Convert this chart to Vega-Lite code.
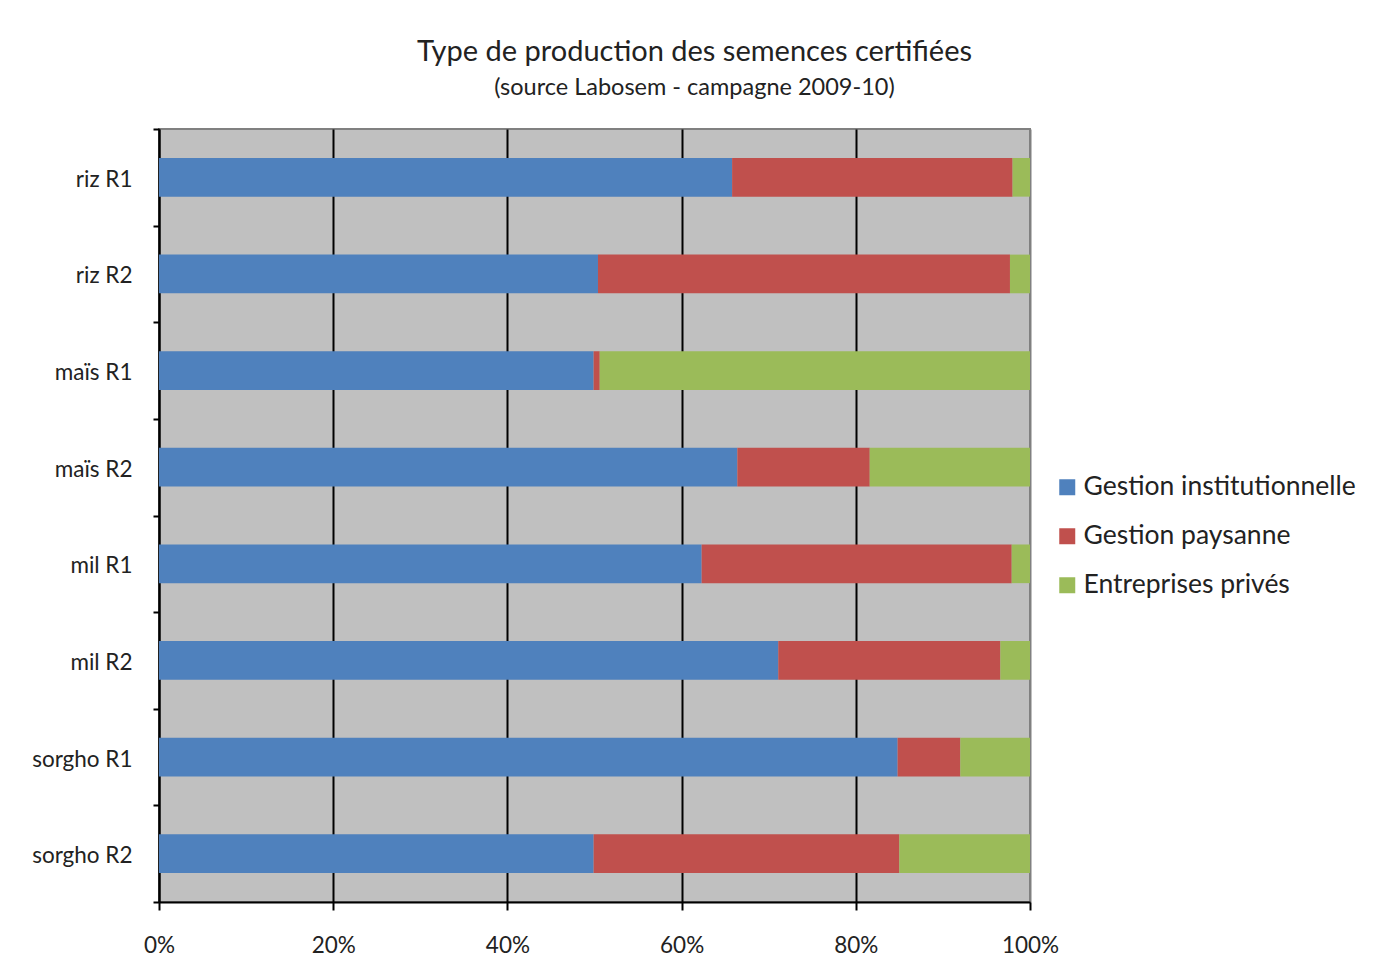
{
  "$schema": "https://vega.github.io/schema/vega-lite/v6.json",
  "width": 871,
  "height": 773,
  "autosize": "none",
  "padding": {"left": 159, "top": 129, "right": 350, "bottom": 69},
  "background": "white",
  "title": {
    "text": "Type de production des semences certifiées",
    "subtitle": "(source Labosem - campagne  2009-10)",
    "anchor": "middle",
    "dx": 100,
    "offset": 19,
    "font": "Lato",
    "fontSize": 29,
    "fontWeight": "normal",
    "color": "#222222",
    "subtitleFont": "Lato",
    "subtitleFontSize": 23.5,
    "subtitleColor": "#222222",
    "subtitlePadding": 9
  },
  "data": {
    "values": [
      {"culture": "riz R1", "type": "Gestion institutionnelle", "ordre": 1, "part": 0.658},
      {"culture": "riz R1", "type": "Gestion paysanne", "ordre": 2, "part": 0.322},
      {"culture": "riz R1", "type": "Entreprises privés", "ordre": 3, "part": 0.020},
      {"culture": "riz R2", "type": "Gestion institutionnelle", "ordre": 1, "part": 0.504},
      {"culture": "riz R2", "type": "Gestion paysanne", "ordre": 2, "part": 0.473},
      {"culture": "riz R2", "type": "Entreprises privés", "ordre": 3, "part": 0.023},
      {"culture": "maïs R1", "type": "Gestion institutionnelle", "ordre": 1, "part": 0.499},
      {"culture": "maïs R1", "type": "Gestion paysanne", "ordre": 2, "part": 0.007},
      {"culture": "maïs R1", "type": "Entreprises privés", "ordre": 3, "part": 0.494},
      {"culture": "maïs R2", "type": "Gestion institutionnelle", "ordre": 1, "part": 0.664},
      {"culture": "maïs R2", "type": "Gestion paysanne", "ordre": 2, "part": 0.152},
      {"culture": "maïs R2", "type": "Entreprises privés", "ordre": 3, "part": 0.184},
      {"culture": "mil R1", "type": "Gestion institutionnelle", "ordre": 1, "part": 0.623},
      {"culture": "mil R1", "type": "Gestion paysanne", "ordre": 2, "part": 0.356},
      {"culture": "mil R1", "type": "Entreprises privés", "ordre": 3, "part": 0.021},
      {"culture": "mil R2", "type": "Gestion institutionnelle", "ordre": 1, "part": 0.711},
      {"culture": "mil R2", "type": "Gestion paysanne", "ordre": 2, "part": 0.255},
      {"culture": "mil R2", "type": "Entreprises privés", "ordre": 3, "part": 0.034},
      {"culture": "sorgho R1", "type": "Gestion institutionnelle", "ordre": 1, "part": 0.848},
      {"culture": "sorgho R1", "type": "Gestion paysanne", "ordre": 2, "part": 0.072},
      {"culture": "sorgho R1", "type": "Entreprises privés", "ordre": 3, "part": 0.080},
      {"culture": "sorgho R2", "type": "Gestion institutionnelle", "ordre": 1, "part": 0.499},
      {"culture": "sorgho R2", "type": "Gestion paysanne", "ordre": 2, "part": 0.351},
      {"culture": "sorgho R2", "type": "Entreprises privés", "ordre": 3, "part": 0.150}
    ]
  },
  "mark": {"type": "bar", "height": {"band": 0.4}},
  "encoding": {
    "y": {
      "field": "culture",
      "type": "nominal",
      "sort": ["riz R1", "riz R2", "maïs R1", "maïs R2", "mil R1", "mil R2", "sorgho R1", "sorgho R2"],
      "scale": {"paddingInner": 0, "paddingOuter": 0},
      "axis": {
        "title": null,
        "domainColor": "black",
        "domainWidth": 2,
        "tickColor": "black",
        "tickWidth": 2,
        "tickSize": 6,
        "tickBand": "extent",
        "labelFont": "Lato",
        "labelFontSize": 22.5,
        "labelColor": "#222222",
        "labelPadding": 21,
        "labelOffset": 2,
        "grid": false
      }
    },
    "x": {
      "field": "part",
      "type": "quantitative",
      "stack": "zero",
      "scale": {"domain": [0, 1], "nice": false},
      "axis": {
        "title": null,
        "format": ".0%",
        "values": [0, 0.2, 0.4, 0.6, 0.8, 1],
        "domainColor": "black",
        "domainWidth": 2,
        "tickColor": "black",
        "tickWidth": 2,
        "tickSize": 8,
        "labelFont": "Lato",
        "labelFontSize": 22.5,
        "labelColor": "#222222",
        "labelPadding": 24,
        "labelFlush": false,
        "grid": true,
        "gridColor": {"condition": {"test": "datum.value === 1", "value": "#808080"}, "value": "black"},
        "gridWidth": 2
      }
    },
    "color": {
      "field": "type",
      "type": "nominal",
      "sort": ["Gestion institutionnelle", "Gestion paysanne", "Entreprises privés"],
      "scale": {
        "domain": ["Gestion institutionnelle", "Gestion paysanne", "Entreprises privés"],
        "range": ["#4F81BD", "#C0504D", "#9BBB59"]
      },
      "legend": {
        "title": null,
        "orient": "none",
        "legendX": 895,
        "legendY": 345,
        "symbolType": "square",
        "symbolSize": 256,
        "symbolStrokeWidth": 0,
        "labelFont": "Lato",
        "labelFontSize": 26.5,
        "labelColor": "#222222",
        "labelOffset": 3,
        "rowPadding": 22,
        "labelLimit": 400
      }
    },
    "order": {"field": "ordre", "type": "quantitative"}
  },
  "config": {
    "view": {"fill": "#C0C0C0", "stroke": "#808080", "strokeWidth": 2}
  }
}
